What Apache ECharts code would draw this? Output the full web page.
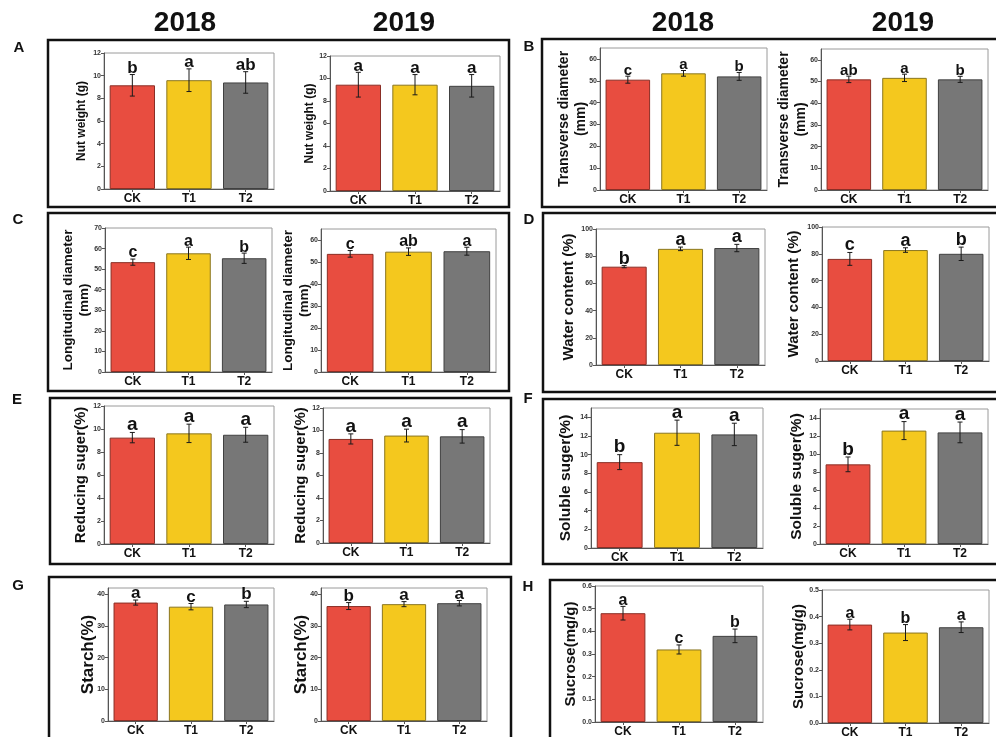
<!DOCTYPE html>
<html>
<head>
<meta charset="utf-8">
<title>Walnut fruit traits 2018-2019</title>
<script src="https://cdn.jsdelivr.net/npm/echarts@6/dist/echarts.min.js"></script>
<style>
  html, body { margin: 0; padding: 0; background: #fff; }
  #chart { width: 996px; height: 737px; }
</style>
</head>
<body>
<div id="chart"></div>
<script>
// Treatments shown on every x axis
const groups = ['CK', 'T1', 'T2'];
const years = ['2018', '2019'];

// Nut weight (g)
const nutWeight2018 = [9.15, 9.6, 9.4];
const nutWeight2018Sd = [0.95, 1.0, 0.95];
const nutWeight2018Sig = ['b', 'a', 'ab'];
const nutWeight2019 = [9.45, 9.45, 9.35];
const nutWeight2019Sd = [1.1, 0.9, 1.0];
const nutWeight2019Sig = ['a', 'a', 'a'];

// Transverse diameter (mm)
const transverse2018 = [50.5, 53.4, 52.0];
const transverse2018Sd = [1.6, 1.3, 1.8];
const transverse2018Sig = ['c', 'a', 'b'];
const transverse2019 = [51.0, 51.7, 51.0];
const transverse2019Sd = [1.5, 1.7, 1.4];
const transverse2019Sig = ['ab', 'a', 'b'];

// Longitudinal diameter (mm)
const longitudinal2018 = [53.4, 57.7, 55.3];
const longitudinal2018Sd = [1.5, 3.0, 2.5];
const longitudinal2018Sig = ['c', 'a', 'b'];
const longitudinal2019 = [53.7, 54.7, 54.9];
const longitudinal2019Sd = [1.5, 1.7, 1.8];
const longitudinal2019Sig = ['c', 'ab', 'a'];

// Water content (%)
const water2018 = [72.3, 85.4, 86.0];
const water2018Sd = [0.8, 1.3, 2.7];
const water2018Sig = ['b', 'a', 'a'];
const water2019 = [76.2, 82.8, 80.0];
const water2019Sd = [4.8, 1.7, 5.0];
const water2019Sig = ['c', 'a', 'b'];

// Reducing sugar (%)
const reducing2018 = [9.25, 9.62, 9.5];
const reducing2018Sd = [0.45, 0.8, 0.65];
const reducing2018Sig = ['a', 'a', 'a'];
const reducing2019 = [9.25, 9.55, 9.48];
const reducing2019Sd = [0.45, 0.57, 0.6];
const reducing2019Sig = ['a', 'a', 'a'];

// Soluble sugar (%)
const soluble2018 = [9.2, 12.35, 12.17];
const soluble2018Sd = [0.8, 1.35, 1.2];
const soluble2018Sig = ['b', 'a', 'a'];
const soluble2019 = [8.85, 12.6, 12.4];
const soluble2019Sd = [0.82, 1.0, 1.15];
const soluble2019Sig = ['b', 'a', 'a'];

// Starch (%)
const starch2018 = [37.4, 36.1, 36.8];
const starch2018Sd = [0.8, 1.0, 1.0];
const starch2018Sig = ['a', 'c', 'b'];
const starch2019 = [36.3, 36.9, 37.2];
const starch2019Sd = [1.1, 0.8, 0.85];
const starch2019Sig = ['b', 'a', 'a'];

// Sucrose (mg/g)
const sucrose2018 = [0.48, 0.32, 0.38];
const sucrose2018Sd = [0.03, 0.02, 0.03];
const sucrose2018Sig = ['a', 'c', 'b'];
const sucrose2019 = [0.37, 0.34, 0.36];
const sucrose2019Sd = [0.02, 0.03, 0.02];
const sucrose2019Sig = ['a', 'b', 'a'];

// Bar fills and outlines per treatment
const barFill = ['#E84D40', '#F4C81E', '#777777'];
const barEdge = ['#8a2e25', '#8a7620', '#404040'];
const FONT = '"Liberation Sans", Arial, sans-serif';

// Each small plot: data, y-axis setup and its placement on the page
const panels = [
  { mean: nutWeight2018, sd: nutWeight2018Sd, sig: nutWeight2018Sig, name: 'Nut weight (g)', max: 12, interval: 2,
    box: [104, 53, 170, 136], gap: 15, nameSize: 12, sigSize: 17 },
  { mean: nutWeight2019, sd: nutWeight2019Sd, sig: nutWeight2019Sig, name: 'Nut weight (g)', max: 12, interval: 2,
    box: [330, 56, 170, 135], gap: 13, nameSize: 12, sigSize: 17 },
  { mean: transverse2018, sd: transverse2018Sd, sig: transverse2018Sig, name: 'Transverse diameter\n(mm)', max: 65, interval: 10,
    box: [600, 48, 167, 142], gap: 10, nameSize: 14, sigSize: 15 },
  { mean: transverse2019, sd: transverse2019Sd, sig: transverse2019Sig, name: 'Transverse diameter\n(mm)', max: 65, interval: 10,
    box: [821, 49, 167, 141], gap: 11, nameSize: 14, sigSize: 15 },
  { mean: longitudinal2018, sd: longitudinal2018Sd, sig: longitudinal2018Sig, name: 'Longitudinal diameter\n(mm)', max: 70, interval: 10,
    box: [105, 228, 167, 144], gap: 13, nameSize: 13.5, sigSize: 16 },
  { mean: longitudinal2019, sd: longitudinal2019Sd, sig: longitudinal2019Sig, name: 'Longitudinal diameter\n(mm)', max: 65, interval: 10,
    box: [321, 229, 175, 143], gap: 9, nameSize: 13.5, sigSize: 16 },
  { mean: water2018, sd: water2018Sd, sig: water2018Sig, name: 'Water content (%)', max: 100, interval: 20,
    box: [596, 229, 169, 136], gap: 18, nameSize: 15, sigSize: 18 },
  { mean: water2019, sd: water2019Sd, sig: water2019Sig, name: 'Water content (%)', max: 100, interval: 20,
    box: [822, 227, 167, 134], gap: 19, nameSize: 15, sigSize: 18 },
  { mean: reducing2018, sd: reducing2018Sd, sig: reducing2018Sig, name: 'Reducing suger(%)', max: 12, interval: 2,
    box: [104, 406, 170, 138], gap: 14, nameSize: 15, sigSize: 19 },
  { mean: reducing2019, sd: reducing2019Sd, sig: reducing2019Sig, name: 'Reducing suger(%)', max: 12, interval: 2,
    box: [323, 408, 167, 135], gap: 13, nameSize: 15, sigSize: 19 },
  { mean: soluble2018, sd: soluble2018Sd, sig: soluble2018Sig, name: 'Soluble suger(%)', max: 15, interval: 2,
    box: [591, 408, 172, 140], gap: 16, nameSize: 15.5, sigSize: 19 },
  { mean: soluble2019, sd: soluble2019Sd, sig: soluble2019Sig, name: 'Soluble suger(%)', max: 15, interval: 2,
    box: [820, 409, 168, 135], gap: 14, nameSize: 15.5, sigSize: 19 },
  { mean: starch2018, sd: starch2018Sd, sig: starch2018Sig, name: 'Starch(%)', max: 42, interval: 10,
    box: [108, 588, 166, 133], gap: 10, nameSize: 17, sigSize: 17 },
  { mean: starch2019, sd: starch2019Sd, sig: starch2019Sig, name: 'Starch(%)', max: 42, interval: 10,
    box: [321, 588, 166, 133], gap: 10, nameSize: 17, sigSize: 17 },
  { mean: sucrose2018, sd: sucrose2018Sd, sig: sucrose2018Sig, name: 'Sucrose(mg/g)', max: 0.6, interval: 0.1, decimals: 1,
    box: [595, 586, 168, 136], gap: 15, nameSize: 15, sigSize: 16 },
  { mean: sucrose2019, sd: sucrose2019Sd, sig: sucrose2019Sig, name: 'Sucrose(mg/g)', max: 0.5, interval: 0.1, decimals: 1,
    box: [822, 590, 167, 133], gap: 14, nameSize: 15, sigSize: 16 }
];

// Outer frames around each pair of plots, with their panel letters
const frames = [
  { letter: 'A', rect: [48, 40, 461, 167], at: [19, 48] },
  { letter: 'B', rect: [542, 39, 480, 168], at: [529, 47] },
  { letter: 'C', rect: [48, 213, 461, 178], at: [18, 220] },
  { letter: 'D', rect: [543, 213, 480, 179], at: [529, 220] },
  { letter: 'E', rect: [50, 398, 461, 166], at: [17, 400] },
  { letter: 'F', rect: [543, 399, 480, 165], at: [528, 399] },
  { letter: 'G', rect: [49, 577, 462, 200], at: [18, 586] },
  { letter: 'H', rect: [550, 580, 480, 200], at: [528, 587] }
];
const yearTitles = [
  { text: years[0], x: 185 }, { text: years[1], x: 404 },
  { text: years[0], x: 683 }, { text: years[1], x: 903 }
];

const grid = [], xAxis = [], yAxis = [], series = [];
panels.forEach((p, k) => {
  grid.push({
    left: p.box[0], top: p.box[1], width: p.box[2], height: p.box[3],
    show: true, borderColor: '#9a9a9a', borderWidth: 1, containLabel: false,
    outerBoundsMode: 'none'
  });
  xAxis.push({
    type: 'category', gridIndex: k, data: groups,
    axisLine: { show: true, lineStyle: { color: '#555', width: 1 } },
    axisTick: { show: true, alignWithLabel: true, length: 3, lineStyle: { color: '#555' } },
    axisLabel: { color: '#111', fontSize: 12, fontWeight: 'bold', fontFamily: FONT, margin: 4 },
    splitLine: { show: false }
  });
  yAxis.push({
    type: 'value', gridIndex: k, min: 0, max: p.max, interval: p.interval,
    name: p.name, nameLocation: 'middle', nameGap: p.gap, nameMoveOverlap: false,
    nameTextStyle: { color: '#111', fontSize: p.nameSize, fontWeight: 'bold', fontFamily: FONT,
      lineHeight: Math.round(p.nameSize * 1.2) },
    axisLine: { show: true, lineStyle: { color: '#555', width: 1 } },
    axisTick: { show: true, length: 3, lineStyle: { color: '#555' } },
    axisLabel: {
      color: '#333', fontSize: 7, fontWeight: 'bold', fontFamily: FONT, margin: 3,
      showMaxLabel: (p.max / p.interval) % 1 < 1e-6 || (p.max / p.interval) % 1 > 1 - 1e-6,
      formatter: v => p.decimals ? v.toFixed(p.decimals) : String(Math.round(v))
    },
    splitLine: { show: false }
  });
  series.push({
    type: 'bar', xAxisIndex: k, yAxisIndex: k, barWidth: '80%',
    data: p.mean.map((v, i) => ({
      value: v,
      itemStyle: { color: barFill[i], borderColor: barEdge[i], borderWidth: 1 }
    })),
    silent: true, animation: false
  });
  series.push({
    type: 'custom', xAxisIndex: k, yAxisIndex: k, silent: true, animation: false, z: 5,
    data: p.mean.map((v, i) => [i, v, p.sd[i]]),
    renderItem: (params, api) => {
      const i = api.value(0), m = api.value(1), s = api.value(2);
      const top = api.coord([i, m + s]);
      const bot = api.coord([i, m - s]);
      const x = top[0], hw = 2.5;
      const st = { stroke: '#1a1a1a', lineWidth: 1 };
      return {
        type: 'group',
        children: [
          { type: 'line', shape: { x1: x, y1: top[1], x2: x, y2: bot[1] }, style: st },
          { type: 'line', shape: { x1: x - hw, y1: top[1], x2: x + hw, y2: top[1] }, style: st },
          { type: 'line', shape: { x1: x - hw, y1: bot[1], x2: x + hw, y2: bot[1] }, style: st },
          { type: 'text', x: x, y: top[1] + 2,
            style: { text: p.sig[i], fill: '#111', font: 'bold ' + p.sigSize + 'px ' + FONT,
              align: 'center', verticalAlign: 'bottom' } }
        ]
      };
    }
  });
});

const graphic = [];
frames.forEach(f => {
  graphic.push({
    type: 'rect', shape: { x: f.rect[0], y: f.rect[1], width: f.rect[2], height: f.rect[3] },
    style: { fill: 'none', stroke: '#111', lineWidth: 2.5 }, silent: true, z: 10
  });
  graphic.push({
    type: 'text', x: f.at[0], y: f.at[1],
    style: { text: f.letter, fill: '#111', font: 'bold 15px ' + FONT, align: 'center', verticalAlign: 'middle' },
    silent: true
  });
});
yearTitles.forEach(t => {
  graphic.push({
    type: 'text', x: t.x, y: 23,
    style: { text: t.text, fill: '#111', font: 'bold 28px ' + FONT, align: 'center', verticalAlign: 'middle' },
    silent: true
  });
});

const chart = echarts.init(document.getElementById('chart'), null, { renderer: 'canvas' });
chart.setOption({
  backgroundColor: '#ffffff',
  animation: false,
  grid, xAxis, yAxis, series, graphic
});
</script>
</body>
</html>
